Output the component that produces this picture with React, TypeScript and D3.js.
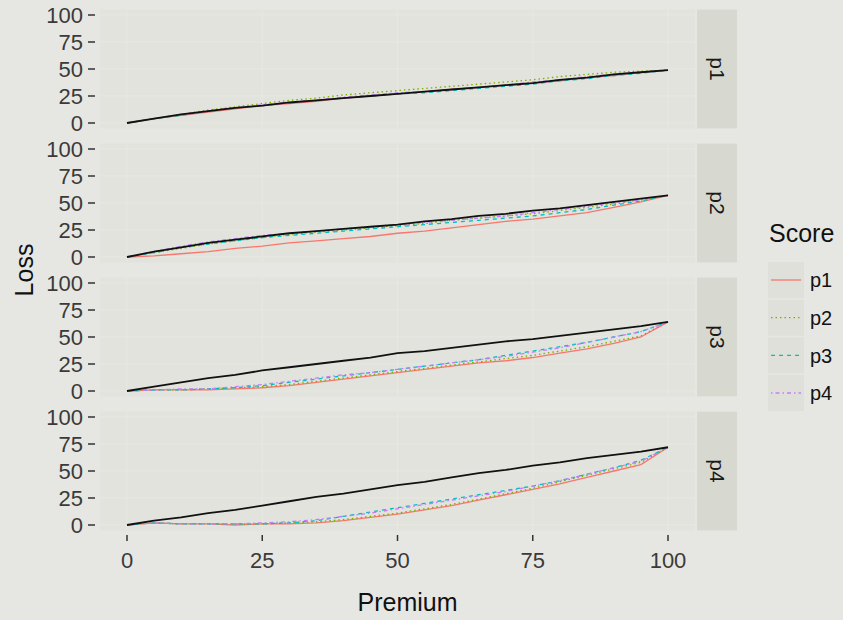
import React from 'react';
import * as d3 from 'd3';

// premium share, in steps of 5
const premium = [0, 5, 10, 15, 20, 25, 30, 35, 40, 45, 50, 55, 60, 65, 70, 75, 80, 85, 90, 95, 100];

const panels = ['p1', 'p2', 'p3', 'p4'];
const scores = ['p1', 'p2', 'p3', 'p4'];

const xTicks = [0, 25, 50, 75, 100];
const yTicks = [0, 25, 50, 75, 100];

// black reference line for each panel
const baseP1 = [0, 4, 8, 11, 14, 16, 19, 21, 23, 25, 27, 29, 31, 33, 35, 37, 40, 42, 45, 47, 49];
const baseP2 = [0, 5, 9, 13, 16, 19, 22, 24, 26, 28, 30, 33, 35, 38, 40, 43, 45, 48, 51, 54, 57];
const baseP3 = [0, 4, 8, 12, 15, 19, 22, 25, 28, 31, 35, 37, 40, 43, 46, 48, 51, 54, 57, 60, 64];
const baseP4 = [0, 4, 7, 11, 14, 18, 22, 26, 29, 33, 37, 40, 44, 48, 51, 55, 58, 62, 65, 68, 72];

// panel p1: loss curves by score
const p1_p1 = [0, 4, 7, 10, 13, 16, 18, 20, 23, 25, 27, 29, 31, 33, 35, 37, 39, 42, 44, 47, 49];
const p1_p2 = [0, 4, 8, 12, 15, 18, 21, 23, 26, 28, 30, 32, 34, 36, 38, 40, 43, 45, 47, 48, 49];
const p1_p3 = [0, 4, 7, 11, 14, 16, 19, 21, 23, 25, 27, 28, 30, 32, 34, 36, 39, 41, 44, 46, 49];
const p1_p4 = [0, 4, 8, 11, 14, 17, 19, 21, 24, 26, 28, 29, 31, 33, 35, 38, 40, 43, 45, 47, 49];

// panel p2
const p2_p1 = [0, 1, 3, 5, 8, 10, 13, 15, 17, 19, 22, 24, 27, 30, 33, 35, 38, 41, 46, 51, 57];
const p2_p2 = [0, 4, 8, 12, 15, 18, 21, 23, 25, 27, 29, 31, 34, 36, 38, 40, 43, 46, 49, 53, 57];
const p2_p3 = [0, 4, 9, 12, 15, 18, 20, 22, 24, 26, 28, 30, 32, 34, 36, 38, 41, 44, 48, 52, 57];
const p2_p4 = [0, 5, 10, 14, 17, 20, 22, 24, 26, 28, 30, 32, 34, 36, 38, 41, 44, 47, 50, 53, 57];

// panel p3
const p3_p1 = [0, 1, 1, 1, 2, 3, 5, 8, 11, 14, 17, 20, 23, 26, 28, 31, 35, 39, 44, 50, 64];
const p3_p2 = [0, 1, 1, 2, 3, 4, 6, 9, 12, 15, 18, 21, 24, 27, 30, 33, 37, 41, 46, 51, 64];
const p3_p3 = [0, 1, 1, 2, 3, 5, 8, 11, 14, 17, 20, 23, 26, 29, 33, 37, 41, 45, 50, 55, 64];
const p3_p4 = [0, 1, 2, 2, 4, 6, 9, 12, 15, 17, 20, 23, 26, 29, 32, 36, 40, 45, 50, 55, 64];

// panel p4
const p4_p1 = [0, 2, 1, 1, 0, 1, 1, 2, 4, 7, 10, 14, 18, 23, 28, 33, 38, 44, 50, 56, 72];
const p4_p2 = [0, 2, 1, 1, 1, 1, 2, 3, 5, 8, 11, 15, 19, 24, 29, 34, 40, 46, 52, 58, 72];
const p4_p3 = [0, 2, 1, 1, 1, 1, 2, 4, 8, 12, 16, 20, 24, 28, 32, 36, 41, 47, 53, 60, 72];
const p4_p4 = [0, 2, 1, 1, 1, 2, 3, 5, 8, 11, 15, 19, 23, 27, 31, 36, 41, 47, 53, 59, 72];

const baseLines = [baseP1, baseP2, baseP3, baseP4];
const scoreLines = [
  [p1_p1, p1_p2, p1_p3, p1_p4],
  [p2_p1, p2_p2, p2_p3, p2_p4],
  [p3_p1, p3_p2, p3_p3, p3_p4],
  [p4_p1, p4_p2, p4_p3, p4_p4]
];

const colors = ['#F8766D', '#7CAE00', '#00BFC4', '#C77CFF'];
const dashes = [null, '1.5,3', '4,4', '1.5,3,4,3'];

const W = 843, H = 620;
const font = '"Liberation Sans", Arial, sans-serif';

export default function App() {
  const x = d3.scaleLinear().domain([0, 100]).range([127, 668]);
  const panelLeft = x(-5), panelRight = x(105);
  const stripLeft = panelRight + 2, stripW = 40;

  const panelY = (i: number) =>
    d3.scaleLinear().domain([0, 100]).range([123 + 134 * i, 15 + 134 * i]);

  const legendY = d3.scalePoint<string>().domain(scores).range([280, 393]);

  return (
    <svg width={W} height={H} style={{ position: 'absolute', left: 0, top: 0 }} fontFamily={font}>
      <rect width={W} height={H} fill="#E6E7E3" />

      {panels.map((p, i) => {
        const y = panelY(i);
        const top = y(105), bottom = y(-5);
        const line = d3.line<number>().x((d, k) => x(premium[k])).y(d => y(d));
        return (
          <g key={p}>
            <rect x={panelLeft} y={top} width={panelRight - panelLeft} height={bottom - top} fill="#E2E3DC" />
            {yTicks.map(t => (
              <line key={'gy' + t} x1={panelLeft} x2={panelRight} y1={y(t)} y2={y(t)} stroke="#E7E8E3" strokeWidth={1} />
            ))}
            {xTicks.map(t => (
              <line key={'gx' + t} x1={x(t)} x2={x(t)} y1={top} y2={bottom} stroke="#E7E8E3" strokeWidth={1} />
            ))}
            {scoreLines[i].map((vals, s) => (
              <path
                key={s}
                d={line(vals) || ''}
                fill="none"
                stroke={colors[s]}
                strokeWidth={1.3}
                strokeDasharray={dashes[s] || undefined}
              />
            ))}
            <path d={line(baseLines[i]) || ''} fill="none" stroke="#111" strokeWidth={1.8} />

            {yTicks.map(t => (
              <g key={'ty' + t}>
                <line x1={88} x2={95} y1={y(t)} y2={y(t)} stroke="#333" strokeWidth={1.5} />
                <text x={83} y={y(t)} dy="0.36em" textAnchor="end" fontSize={22} fill="#3A3A3A">{t}</text>
              </g>
            ))}

            <rect x={stripLeft} y={top} width={stripW} height={bottom - top} fill="#D7D9D1" />
            <text
              transform={`translate(${stripLeft + stripW / 2},${(top + bottom) / 2}) rotate(90)`}
              textAnchor="middle"
              dy="0.35em"
              fontSize={21}
              fill="#1A1A1A"
            >
              {p}
            </text>
          </g>
        );
      })}

      {xTicks.map(t => (
        <g key={'tx' + t}>
          <line x1={x(t)} x2={x(t)} y1={535} y2={541} stroke="#333" strokeWidth={1.5} />
          <text x={x(t)} y={568} textAnchor="middle" fontSize={22} fill="#3A3A3A">{t}</text>
        </g>
      ))}

      <text x={(panelLeft + panelRight) / 2 + 10} y={611} textAnchor="middle" fontSize={25} fill="#111">Premium</text>
      <text transform={`translate(33,270) rotate(-90)`} textAnchor="middle" fontSize={25} fill="#111">Loss</text>

      <text x={769} y={242} fontSize={25} fill="#111">Score</text>
      {scores.map((s, k) => {
        const cy = legendY(s) as number;
        return (
          <g key={s}>
            <rect x={768} y={cy - 18} width={36} height={36} fill="#DFE0D9" />
            <line
              x1={771}
              x2={801}
              y1={cy}
              y2={cy}
              stroke={colors[k]}
              strokeWidth={1.3}
              strokeDasharray={dashes[k] || undefined}
            />
            <text x={810} y={cy} dy="0.36em" fontSize={20} fill="#111">{s}</text>
          </g>
        );
      })}
    </svg>
  );
}
